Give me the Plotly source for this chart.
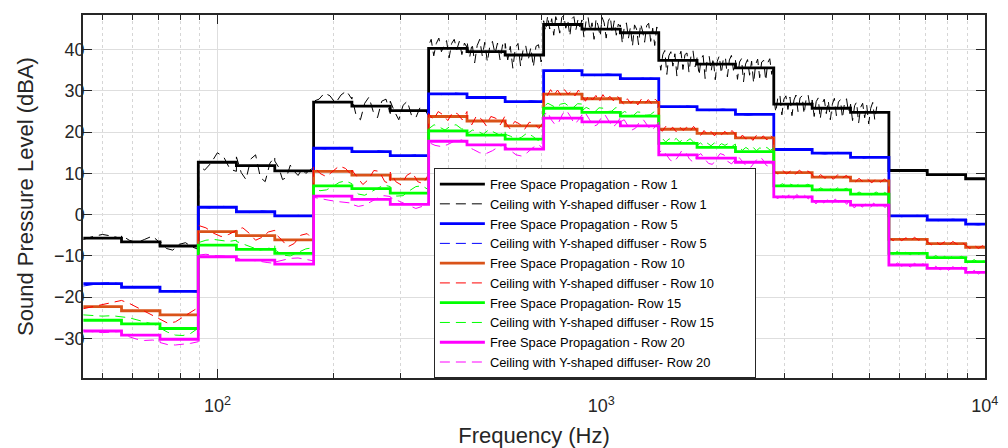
import numpy as np
import plotly.graph_objects as go

# Third-octave band edges (Hz)
band_edges = [44.7, 56.2, 70.8, 89.1, 112, 141, 178, 224, 282, 355, 447, 562, 708,
              891, 1122, 1413, 1778, 2239, 2818, 3548, 4467, 5623, 7079, 8913, 11220]

# Free space propagation (solid) levels per third-octave band (dBA)
free_row1 = [-5.7, -6.6, -7.6, 12.7, 11.9, 10.6, 27.3, 26.3, 25.2, 40.3, 39.5, 38.7,
             46.1, 45.0, 44.1, 37.4, 36.5, 35.6, 26.8, 25.8, 24.8, 10.7, 9.7, 8.7]
free_row5 = [-16.7, -17.6, -18.6, 1.8, 0.7, -0.3, 16.1, 15.3, 14.3, 29.3, 28.4, 27.4,
             34.9, 33.9, 33.0, 26.2, 25.4, 24.3, 15.8, 14.9, 13.9, -0.3, -1.3, -2.3]
free_row10 = [-22.3, -23.3, -24.3, -4.1, -5.1, -6.1, 10.5, 9.6, 8.6, 23.8, 22.7, 21.5,
              29.2, 28.1, 27.2, 20.7, 19.7, 18.6, 10.2, 9.1, 8.2, -6.0, -7.0, -7.9]
free_row15 = [-25.6, -26.5, -27.6, -7.4, -8.4, -9.4, 7.0, 6.3, 5.2, 20.3, 19.3, 18.3,
              25.8, 24.8, 23.9, 17.3, 16.3, 15.3, 7.0, 6.0, 5.0, -9.4, -10.4, -11.4]
free_row20 = [-28.2, -29.2, -30.2, -10.2, -11.0, -12.0, 4.5, 3.7, 2.5, 17.8, 16.9, 15.9,
              23.4, 22.5, 21.5, 14.5, 13.7, 12.7, 4.3, 3.2, 2.3, -12.2, -13.0, -14.0]

# Ceiling with Y-shaped diffuser (dashed): readings per third-octave band
ceil_row1 = [
    [-6.0, -5.3, -4.8, -5.2, -5.8],
    [-5.0, -6.2, -6.8, -6.0, -5.2, -6.8],
    [-6.5, -8.2, -8.6, -7.2, -6.8, -7.8, -8.4],
    [12.0, 10.8, 12.5, 15.0, 14.0, 11.0, 10.5],
    [14.0, 10.2, 8.5, 13.5, 14.5, 9.0, 8.0, 12.5, 14.0],
    [13.0, 11.5, 8.5, 9.0, 12.0, 10.5, 9.5, 11.0, 10.0, 10.8, 11.5],
    [27.5, 28.0, 29.5, 28.8, 27.0, 29.0, 30.0, 28.0],
    [28.5, 24.0, 23.0, 27.0, 28.5, 25.0, 23.5, 27.5, 28.0, 24.5],
    [27.5, 25.0, 23.0, 26.5, 27.5, 24.0, 23.5, 26.0, 25.5, 24.0],
    [41.0, 42.5, 38.5, 41.5, 42.8, 39.5, 41.0, 42.2, 38.0, 41.5, 42.5, 40.0, 42.0, 38.8, 41.6, 40.5],
    [42.0, 38.0, 41.5, 36.8, 41.0, 42.5, 38.5, 41.8, 37.0, 41.0, 42.0, 39.0, 41.6, 37.5, 41.2, 40.0],
    [41.5, 37.5, 40.8, 35.5, 40.5, 41.5, 36.0, 40.0, 41.0, 37.5, 40.5, 35.8, 40.8, 41.2, 37.0, 39.5],
    [47.0, 44.5, 48.2, 45.0, 47.5, 43.5, 48.0, 46.5, 44.0, 47.8, 48.3, 45.2, 47.0, 43.3, 47.5, 48.0,
     44.8, 47.2, 45.5, 46.8],
    [47.2, 43.0, 46.8, 48.0, 44.5, 46.5, 42.5, 47.5, 45.8, 43.2, 47.8, 46.5, 42.8, 46.8, 48.0, 44.0,
     47.0, 43.5, 46.2, 45.5],
    [46.0, 41.5, 45.8, 46.5, 42.8, 45.5, 40.8, 46.0, 45.0, 41.2, 46.3, 44.5, 41.8, 45.8, 46.4, 42.0,
     45.2, 41.0, 45.5, 44.5],
    [39.2, 35.0, 38.8, 39.8, 34.0, 38.5, 39.5, 36.0, 39.0, 33.6, 38.2, 39.6, 35.2, 38.8, 39.2, 34.5,
     38.5, 39.7, 35.8, 38.0],
    [38.3, 33.8, 37.8, 38.6, 33.0, 37.5, 38.4, 34.8, 38.0, 32.7, 37.2, 38.5, 34.2, 37.8, 38.2, 33.4,
     37.5, 38.6, 35.0, 37.0],
    [37.4, 32.8, 37.0, 37.8, 32.2, 36.5, 37.6, 33.8, 37.2, 31.9, 36.4, 37.7, 33.2, 37.0, 37.4, 32.5,
     36.8, 37.8, 34.0, 36.2],
    [28.6, 24.8, 28.4, 29.1, 24.2, 28.0, 28.8, 25.5, 28.5, 24.0, 27.8, 29.0, 25.0, 28.3, 28.8, 24.4,
     28.0, 29.0, 25.8, 27.5],
    [27.8, 23.8, 27.4, 28.3, 23.2, 27.0, 28.0, 24.5, 27.6, 23.0, 26.8, 28.2, 24.0, 27.3, 27.9, 23.4,
     27.0, 28.1, 24.8, 26.6],
    [26.8, 22.8, 26.4, 27.3, 22.2, 26.0, 27.0, 23.5, 26.6, 22.0, 25.8, 27.2, 23.0, 26.2,
     None, None, None, None, None, None],
]
ceil_row5 = [
    [-17.3, -16.9, -16.6, -16.5, -16.8], [-17.4, -17.7, -17.5, -17.8], [-18.4, -18.7, -18.5, -18.8],
    [1.9, 1.6, 2.0, 1.7], [0.8, 0.5, 0.9, 0.6], [-0.2, -0.5, -0.1, -0.4],
    [16.2, 15.9, 16.3, 16.0], [15.4, 15.1, 15.5, 15.2], [14.4, 14.1, 14.5, 14.2],
    [29.4, 29.1, 29.5, 29.2], [28.5, 28.2, 28.6, 28.3], [27.5, 27.2, 27.6, 27.3],
    [35.0, 34.7, 35.1, 34.8], [34.0, 33.7, 34.1, 33.8], [33.1, 32.8, 33.2, 32.9],
    [26.3, 26.0, 26.4, 26.1], [25.5, 25.2, 25.6, 25.3], [24.4, 24.1, 24.5, 24.2],
    [15.9, 15.6, 16.0, 15.7], [15.0, 14.7, 15.1, 14.8], [14.0, 13.7, 14.1, 13.8],
    [-0.2, -0.5, -0.1, -0.4], [-1.2, -1.5, -1.1, -1.4], [-2.2, -2.5, -2.1, -2.4],
]
ceil_row10 = [
    [-22.8, -22.3, -21.8, -21.2, -20.8],
    [-20.8, -21.5, -22.5, -23.5, -24.5, -25.5],
    [-25.5, -26.3, -26.0, -24.8, -23.5, -22.5],
    [-2.6, -3.2, -4.5, -5.3, -4.8, -3.8],
    [-3.5, -3.2, -4.5, -6.2, -5.5, -4.2, -3.8],
    [-4.5, -6.0, -7.8, -7.0, -5.0, -4.6, -6.2],
    [11.8, 10.0, 9.2, 10.5, 11.8, 11.2, 9.5],
    [10.8, 9.0, 7.3, 8.5, 10.7, 10.5, 8.0, 7.5],
    [10.3, 8.0, 7.2, 9.5, 10.3, 8.0, 7.5, 9.8],
    [24.5, 23.0, 25.0, 24.2, 22.8, 24.8, 24.5, 23.0, 25.0],
    [23.5, 21.8, 24.0, 23.2, 21.6, 23.8, 23.4, 21.8, 24.0],
    [22.5, 20.8, 22.6, 22.0, 20.6, 22.4, 22.2, 20.9, 22.5],
    [29.8, 28.8, 30.3, 29.0, 30.2, 28.9, 30.3, 29.2, 30.0, 28.8, 30.2, 29.0],
    [28.8, 27.5, 29.0, 27.8, 28.9, 27.4, 29.1, 27.8, 28.7, 27.6, 28.9, 27.9],
    [27.9, 26.7, 28.1, 27.0, 28.0, 26.6, 28.0, 26.9, 27.9, 26.8, 28.0, 27.1],
    [21.3, 20.2, 21.4, 20.4, 21.2, 20.1, 21.3, 20.4, 21.2, 20.2, 21.4, 20.5],
    [20.3, 19.2, 20.4, 19.4, 20.2, 19.1, 20.3, 19.4, 20.2, 19.2, 20.4, 19.5],
    [19.2, 18.1, 19.3, 18.3, 19.1, 18.0, 19.2, 18.3, 19.1, 18.1, 19.3, 18.4],
    [10.7, 9.8, 10.8, 9.9, 10.6, 9.7, 10.8, 9.9, 10.6, 9.8],
    [9.6, 8.7, 9.7, 8.8, 9.5, 8.6, 9.7, 8.8, 9.5, 8.7],
    [8.7, 7.8, 8.8, 7.9, 8.6, 7.7, 8.8, 7.9, 8.6, 7.8],
    [-5.6, -6.3, -5.5, -6.3, -5.6, -6.4, -5.5, -6.2, -5.6, -6.3],
    [-6.6, -7.3, -6.5, -7.3, -6.6, -7.4, -6.5, -7.2, -6.6, -7.3],
    [-7.5, -8.2, -7.4, -8.2, -7.5, -8.3, -7.4, -8.1, -7.5, -8.2],
]
ceil_row15 = [
    [-24.3, -24.5, -24.6, -24.5, -24.8],
    [-24.8, -25.0, -25.5, -26.0, -26.5, -27.0],
    [-27.5, -28.5, -29.2, -29.3, -28.8, -27.5],
    [-6.8, -6.2, -6.0, -6.3, -6.5, -6.2],
    [-6.5, -7.2, -8.0, -8.6, -8.3, -7.5],
    [-8.5, -9.8, -10.0, -9.2, -8.3, -8.0],
    [6.5, 5.8, 6.0, 6.8, 7.8, 8.2, 7.5],
    [6.5, 5.0, 4.7, 5.5, 6.5, 7.2, 6.8],
    [5.5, 4.5, 4.6, 5.8, 6.8, 7.0, 6.0],
    [20.8, 21.8, 21.2, 20.5, 21.5, 21.8, 20.8, 20.6],
    [19.6, 20.5, 20.2, 19.5, 20.6, 20.0, 19.3, 20.4],
    [19.5, 19.0, 18.2, 18.8, 19.8, 19.0, 18.0, 18.9],
    [26.2, 27.0, 26.5, 25.9, 26.8, 27.0, 26.2, 26.0, 26.9, 26.8],
    [25.2, 26.0, 25.5, 24.9, 25.9, 25.8, 25.0, 25.1, 26.0, 25.4],
    [24.3, 25.0, 24.5, 24.0, 24.9, 24.8, 24.1, 24.2, 25.0, 24.4],
    [17.8, 18.5, 17.6, 18.4, 17.7, 18.5, 17.6, 18.3, 17.8, 18.4, 17.6, 18.2],
    [16.8, 17.4, 16.6, 17.3, 16.7, 17.4, 16.5, 17.2, 16.8, 17.3, 16.6, 17.1],
    [15.8, 16.4, 15.6, 16.3, 15.7, 16.4, 15.5, 16.2, 15.8, 16.3, 15.6, 16.1],
    [7.4, 6.8, 7.5, 6.9, 7.4, 6.8, 7.5, 6.9, 7.4, 6.8],
    [6.4, 5.8, 6.5, 5.9, 6.4, 5.8, 6.5, 5.9, 6.4, 5.8],
    [5.4, 4.8, 5.5, 4.9, 5.4, 4.8, 5.5, 4.9, 5.4, 4.8],
    [-9.0, -9.6, -8.9, -9.6, -9.1, -9.7, -9.0, -9.6, -9.1, -9.6],
    [-10.0, -10.6, -9.9, -10.6, -10.1, -10.7, -10.0, -10.6, -10.1, -10.6],
    [-11.0, -11.6, -10.9, -11.6, -11.1, -11.7, -11.0, -11.6, -11.1, -11.6],
]
ceil_row20 = [
    [-28.0, -28.4, -28.6, -28.5, -28.3],
    [-28.8, -29.6, -30.2, -30.5, -30.4, -30.6],
    [-31.0, -31.5, -31.6, -31.4, -31.2, -30.8],
    [-9.8, -9.6, -9.9, -10.0, -10.2, -10.3],
    [-10.6, -10.8, -11.0, -11.3, -11.6, -11.8],
    [-11.5, -11.0, -10.6, -10.5, -10.8, -11.2],
    [4.2, 3.8, 3.5, 3.2, 3.0, 2.8],
    [2.5, 2.0, 2.3, 3.2, 4.0, 4.6, 4.4],
    [4.2, 3.5, 2.8, 2.0, 1.5, 2.0, 3.0],
    [17.5, 16.8, 16.5, 17.0, 17.8, 18.2, 17.5],
    [16.5, 15.8, 15.0, 14.8, 15.5, 16.5, 17.0],
    [16.5, 15.5, 14.5, 14.2, 15.0, 16.2, 17.0, 16.0],
    [24.0, 25.0, 23.0, 21.8, 22.5, 24.5, 25.2, 23.8, 22.0, 22.8, 24.2],
    [23.8, 24.5, 23.0, 21.4, 21.8, 23.5, 24.2, 22.8, 21.2, 22.0, 23.5],
    [22.5, 23.0, 21.5, 20.5, 21.0, 22.5, 23.0, 21.8, 20.4, 21.2, 22.4],
    [15.0, 15.7, 14.5, 13.2, 12.8, 14.0, 15.5, 15.2, 13.5, 12.7, 14.2],
    [14.2, 14.8, 13.5, 12.4, 12.2, 13.6, 14.8, 14.5, 12.9, 12.3, 13.5],
    [13.3, 13.8, 12.6, 11.6, 11.5, 12.8, 13.9, 13.5, 12.0, 11.5, 12.6],
    [4.8, 3.8, 5.0, 4.0, 4.8, 3.6, 4.9, 4.0, 4.7, 3.8, 4.9],
    [3.7, 2.6, 3.9, 2.8, 3.6, 2.4, 3.8, 2.9, 3.6, 2.5, 3.8],
    [2.8, 1.6, 2.9, 1.8, 2.6, 1.4, 2.8, 2.0, 2.7, 1.7, 2.8],
    [-11.8, -12.6, -11.7, -12.5, -11.9, -12.7, -11.8, -12.5, -11.9, -12.6],
    [-12.6, -13.4, -12.5, -13.4, -12.7, -13.5, -12.6, -13.3, -12.7, -13.4],
    [-13.6, -14.4, -13.5, -14.4, -13.7, -14.5, -13.6, -14.3, -13.7, -14.4],
]

solid_labels = ["Free Space Propagation - Row 1", "Free Space Propagation - Row 5",
                "Free Space Propagation - Row 10", "Free Space Propagation- Row 15",
                "Free Space Propagation - Row 20"]
dash_labels = ["Ceiling with Y-shaped diffuser - Row 1", "Ceiling with Y-shaped diffuser - Row 5",
               "Ceiling with Y-shaped diffuser - Row 10", "Ceiling with Y-shaped diffuser - Row 15",
               "Ceiling with Y-shaped diffuser- Row 20"]
solid_colors = ["#000000", "#0000FF", "#D95319", "#00FF00", "#FF00FF"]
dash_colors = ["#000000", "#0000FF", "#FF0000", "#00FF00", "#FF00FF"]
solids = [free_row1, free_row5, free_row10, free_row15, free_row20]
dashes = [ceil_row1, ceil_row5, ceil_row10, ceil_row15, ceil_row20]

x_major = [100, 1000, 10000]
x_major_text = ["10<sup>2</sup>", "10<sup>3</sup>", "10<sup>4</sup>"]
x_minor = [50, 60, 70, 80, 90, 200, 300, 400, 500, 600, 700, 800, 900,
           2000, 3000, 4000, 5000, 6000, 7000, 8000, 9000]
y_ticks = [-30, -20, -10, 0, 10, 20, 30, 40]


def band_curve(per_band):
    xs, ys = [], []
    for i, vals in enumerate(per_band):
        lo, hi = np.log10(band_edges[i]), np.log10(band_edges[i + 1])
        pos = 10 ** np.linspace(lo, hi, len(vals))
        xs.extend(pos.tolist())
        ys.extend(vals)
    return xs, ys


PAD = "\u00a0" * 10  # widens the legend box to match the reference

fig = go.Figure()
for k in range(5):
    fig.add_trace(go.Scatter(
        x=band_edges, y=solids[k] + [solids[k][-1]], mode="lines",
        line=dict(color=solid_colors[k], width=2.8, shape="hv"),
        name=solid_labels[k]))
    dx, dy = band_curve(dashes[k])
    fig.add_trace(go.Scatter(
        x=dx, y=dy, mode="lines",
        line=dict(color=dash_colors[k], width=1, dash="10px,6px"),
        name=dash_labels[k] + (PAD if k == 2 else "")))

axis_col = "#262626"
grid_col = "#DEDEDE"
font_fam = "Liberation Sans, Arial, sans-serif"

fig.update_layout(
    width=1008, height=448,
    margin=dict(l=83, r=23, t=15, b=70, autoexpand=False),
    paper_bgcolor="white", plot_bgcolor="white",
    font=dict(family=font_fam, color=axis_col),
    showlegend=True,
    legend=dict(x=0.389, y=0.578, xanchor="left", yanchor="top",
                bgcolor="white", bordercolor=axis_col, borderwidth=1,
                font=dict(size=12.9, family=font_fam, color="#000000"),
                tracegroupgap=0, itemwidth=45),
)
fig.update_xaxes(
    type="log", range=[np.log10(44.6), 4.0005], automargin=False,
    tickmode="array", tickvals=x_major, ticktext=x_major_text,
    ticks="inside", ticklen=9, tickcolor=axis_col, tickwidth=1.2,
    showline=True, linecolor=axis_col, linewidth=1.5, mirror="ticks",
    showgrid=True, gridcolor=grid_col, gridwidth=1,
    tickfont=dict(size=18, color=axis_col), ticklabelstandoff=11,
    minor=dict(tickmode="array", tickvals=x_minor, ticks="inside", ticklen=5,
               tickcolor=axis_col, tickwidth=1, showgrid=True,
               gridcolor="#D6D6D6", griddash="dot", gridwidth=1),
    title=dict(text="Frequency (Hz)", font=dict(size=22, color=axis_col), standoff=16),
    zeroline=False,
)
fig.update_yaxes(
    range=[-39.6, 48.4], automargin=False,
    tickmode="array", tickvals=y_ticks,
    ticks="inside", ticklen=9, tickcolor=axis_col, tickwidth=1.2,
    showline=True, linecolor=axis_col, linewidth=1.5, mirror="ticks",
    showgrid=True, gridcolor=grid_col, gridwidth=1,
    tickfont=dict(size=18, color=axis_col), ticklabelstandoff=-7,
    title=dict(text="Sound Pressure Level (dBA)", font=dict(size=22, color=axis_col), standoff=14),
    zeroline=False,
)

fig.write_html("out.html")
